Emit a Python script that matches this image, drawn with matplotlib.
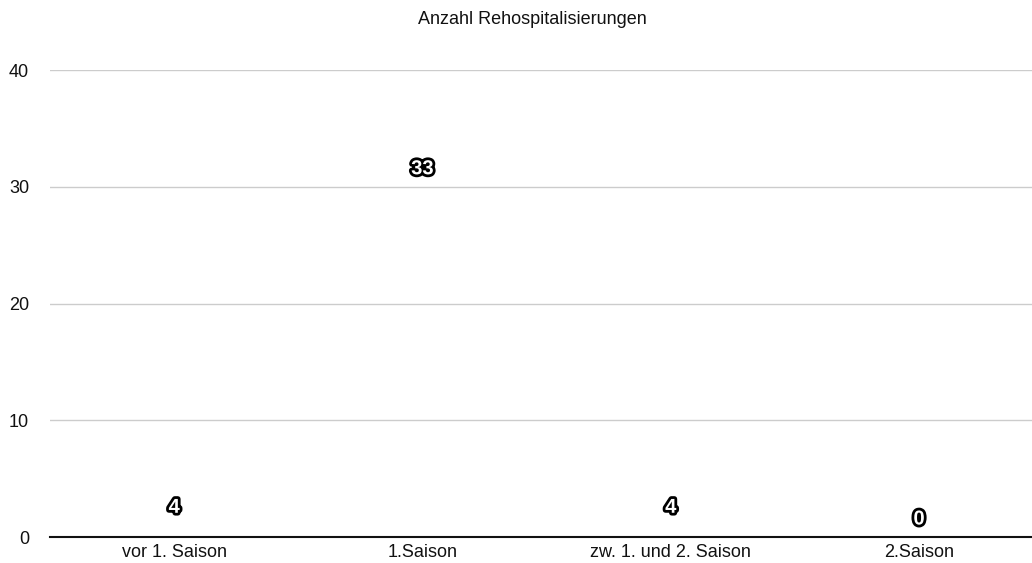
import matplotlib
matplotlib.use('Agg')
import matplotlib.pyplot as plt
import matplotlib.patheffects as pe

plt.rcParams['font.family'] = ['Liberation Sans', 'DejaVu Sans']

# Rehospitalisierungen je Zeitraum
categories = ['vor 1. Saison', '1.Saison', 'zw. 1. und 2. Saison', '2.Saison']
counts = [4, 33, 4, 0]
yticks = [0, 10, 20, 30, 40]
title = 'Anzahl Rehospitalisierungen'


fig = plt.figure(figsize=(10.32, 5.63), dpi=100)
ax = fig.add_axes([50 / 1032, 26 / 563, 982 / 1032, 467 / 563])

x = list(range(len(categories)))
bars = ax.bar(x, counts, width=0.6, color='none', edgecolor='none')

# value labels inside the bar end, above the axis for zero
for xi, v in zip(x, counts):
    off = -17 if v > 0 else 18
    ax.annotate(str(v), xy=(xi, v), xytext=(0, off), textcoords='offset pixels',
                ha='center', va='center', fontsize=14.5, fontweight='bold',
                color='white',
                path_effects=[pe.withStroke(linewidth=4, foreground='black')])

ax.set_xlim(-0.5, 3.455)
ax.set_ylim(0, 40)
ax.set_yticks(yticks)
ax.set_xticks(x)
ax.set_xticklabels(categories)
ax.tick_params(axis='both', length=0, labelsize=13, colors='#111111')
ax.tick_params(axis='y', pad=15)
ax.tick_params(axis='x', pad=5)

ax.grid(axis='y', color='#cccccc', linewidth=1)
ax.set_axisbelow(True)
for s in ['top', 'right', 'left']:
    ax.spines[s].set_visible(False)
ax.spines['bottom'].set_color('#111111')
ax.spines['bottom'].set_linewidth(1.5)
ax.spines['bottom'].set_zorder(3)

fig.text(532 / 1032, 1 - 20 / 563, title, ha='center', va='center',
         fontsize=13, color='#111111')

fig.savefig('out.png', dpi=100)
